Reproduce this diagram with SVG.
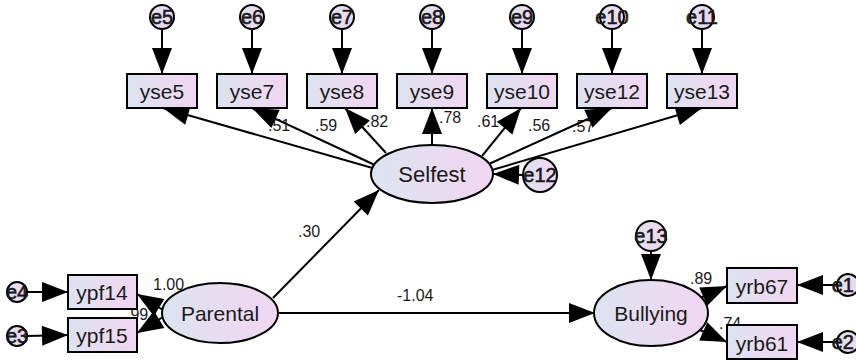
<svg xmlns="http://www.w3.org/2000/svg" width="856" height="360" viewBox="0 0 856 360">
<defs>
<linearGradient id="g" x1="0" y1="0" x2="1" y2="0">
<stop offset="0" stop-color="#dde3f0"/>
<stop offset="1" stop-color="#f1d6f1"/>
</linearGradient>
<marker id="a" markerUnits="userSpaceOnUse" markerWidth="26" markerHeight="20" viewBox="0 0 26 20" refX="26" refY="10" orient="auto" overflow="visible">
<path d="M0,0 L26,10 L0,20 z" fill="#000"/>
</marker>
</defs>
<style>
.bx{fill:url(#g);stroke:#000;stroke-width:2}
.el{fill:url(#g);stroke:#000;stroke-width:2}
.ci{fill:url(#g);stroke:#000;stroke-width:2}
.t{font-family:"Liberation Sans",Arial,sans-serif;font-size:21px;fill:#1a1a1a;text-anchor:middle}
.tl{font-family:"Liberation Sans",Arial,sans-serif;font-size:22px;fill:#1a1a1a;text-anchor:middle}
.te{font-family:"Liberation Sans",Arial,sans-serif;font-size:20px;fill:#1a1a1a;text-anchor:middle;stroke:#1a1a1a;stroke-width:0.6}
.n{font-family:"Liberation Sans",Arial,sans-serif;font-size:16px;fill:#1a1a1a}
.c line{stroke:#000;stroke-width:2;marker-end:url(#a)}
</style>
<g id="labels">
<text class="n" x="268" y="131">.51</text>
<text class="n" x="315" y="131">.59</text>
<text class="n" x="366" y="127">.82</text>
<text class="n" x="439" y="123">.78</text>
<text class="n" x="477" y="127">.61</text>
<text class="n" x="528" y="131">.56</text>
<text class="n" x="572" y="132">.57</text>
<text class="n" x="298" y="237">.30</text>
<text class="n" x="397" y="301">-1.04</text>
<text class="n" x="153" y="290">1.00</text>
<text class="n" x="126" y="320">.99</text>
<text class="n" x="690" y="284">.89</text>
<text class="n" x="719" y="329">.74</text>
</g>
<g id="connectors" class="c">
<line x1="162" y1="29" x2="162" y2="74"/>
<line x1="252" y1="29" x2="252" y2="74"/>
<line x1="342" y1="29" x2="342" y2="74"/>
<line x1="432" y1="29" x2="432" y2="74"/>
<line x1="522" y1="29" x2="522" y2="74"/>
<line x1="612" y1="29" x2="612" y2="74"/>
<line x1="702" y1="29" x2="702" y2="74"/>
<line x1="376" y1="169" x2="163" y2="108"/>
<line x1="377" y1="166" x2="252" y2="108"/>
<line x1="386" y1="153" x2="345" y2="108"/>
<line x1="432" y1="145" x2="432" y2="108"/>
<line x1="482" y1="156" x2="521" y2="108"/>
<line x1="489" y1="164" x2="612" y2="108"/>
<line x1="492" y1="170" x2="702" y2="108"/>
<line x1="523" y1="175" x2="493" y2="174"/>
<line x1="273" y1="298" x2="379" y2="190"/>
<line x1="278" y1="313" x2="595" y2="313"/>
<line x1="651" y1="251" x2="651" y2="280"/>
<line x1="700" y1="298" x2="727" y2="286"/>
<line x1="700" y1="330" x2="727" y2="342"/>
<line x1="837" y1="285" x2="797" y2="285"/>
<line x1="837" y1="342" x2="797" y2="342"/>
<line x1="163" y1="310" x2="137" y2="294"/>
<line x1="163" y1="317" x2="137" y2="333"/>
<line x1="27" y1="292" x2="68" y2="292"/>
<line x1="27" y1="336" x2="68" y2="335"/>
</g>
<g id="yse5"><rect class="bx" x="127" y="74" width="70" height="34"/><text class="t" x="162" y="99">yse5</text></g>
<g id="yse7"><rect class="bx" x="217" y="74" width="70" height="34"/><text class="t" x="252" y="99">yse7</text></g>
<g id="yse8"><rect class="bx" x="307" y="74" width="70" height="34"/><text class="t" x="342" y="99">yse8</text></g>
<g id="yse9"><rect class="bx" x="397" y="74" width="70" height="34"/><text class="t" x="432" y="99">yse9</text></g>
<g id="yse10"><rect class="bx" x="487" y="74" width="70" height="34"/><text class="t" x="522" y="99">yse10</text></g>
<g id="yse12"><rect class="bx" x="577" y="74" width="70" height="34"/><text class="t" x="612" y="99">yse12</text></g>
<g id="yse13"><rect class="bx" x="667" y="74" width="70" height="34"/><text class="t" x="702" y="99">yse13</text></g>
<g id="e5"><circle class="ci" cx="162" cy="17" r="12"/><text class="te" x="162" y="24">e5</text></g>
<g id="e6"><circle class="ci" cx="252" cy="17" r="12"/><text class="te" x="252" y="24">e6</text></g>
<g id="e7"><circle class="ci" cx="342" cy="17" r="12"/><text class="te" x="342" y="24">e7</text></g>
<g id="e8"><circle class="ci" cx="432" cy="17" r="12"/><text class="te" x="432" y="24">e8</text></g>
<g id="e9"><circle class="ci" cx="522" cy="17" r="12"/><text class="te" x="522" y="24">e9</text></g>
<g id="e10"><circle class="ci" cx="612" cy="17" r="12"/><text class="te" x="612" y="24">e10</text></g>
<g id="e11"><circle class="ci" cx="702" cy="17" r="12"/><text class="te" x="702" y="24">e11</text></g>
<g id="Selfest"><ellipse class="el" cx="432" cy="174" rx="61" ry="29"/><text class="tl" x="432" y="182">Selfest</text></g>
<g id="e12"><circle class="ci" cx="540" cy="175" r="17"/><text class="te" x="540" y="182">e12</text></g>
<g id="Parental"><ellipse class="el" cx="220" cy="313" rx="58" ry="30"/><text class="t" x="220" y="321">Parental</text></g>
<g id="Bullying"><ellipse class="el" cx="651" cy="313" rx="57" ry="33"/><text class="t" x="651" y="321">Bullying</text></g>
<g id="e13"><circle class="ci" cx="651" cy="236" r="15"/><text class="te" x="651" y="243">e13</text></g>
<g id="ypf14"><rect class="bx" x="68" y="275" width="69" height="34"/><text class="t" x="102" y="300">ypf14</text></g>
<g id="ypf15"><rect class="bx" x="68" y="318" width="69" height="34"/><text class="t" x="102" y="343">ypf15</text></g>
<g id="e4"><circle class="ci" cx="17" cy="292" r="10"/><text class="te" x="17" y="299">e4</text></g>
<g id="e3"><circle class="ci" cx="17" cy="336" r="10"/><text class="te" x="17" y="343">e3</text></g>
<g id="yrb67"><rect class="bx" x="727" y="268" width="70" height="35"/><text class="t" x="762" y="294">yrb67</text></g>
<g id="yrb61"><rect class="bx" x="727" y="325" width="70" height="34"/><text class="t" x="762" y="351">yrb61</text></g>
<g id="e1"><circle class="ci" cx="848" cy="285" r="11"/><text class="te" x="854" y="292" style="text-anchor:end">e1</text></g>
<g id="e2"><circle class="ci" cx="848" cy="342" r="11"/><text class="te" x="854" y="349" style="text-anchor:end">e2</text></g>
</svg>
